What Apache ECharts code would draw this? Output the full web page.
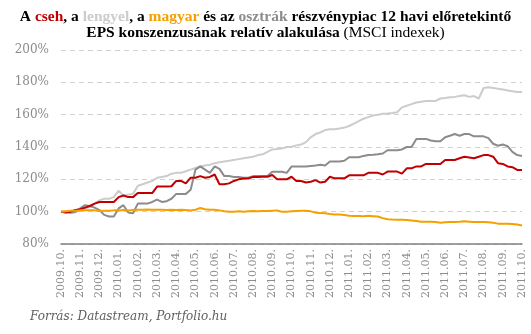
<!DOCTYPE html>
<html>
<head>
<meta charset="utf-8">
<script src="https://cdn.jsdelivr.net/npm/echarts@6/dist/echarts.min.js"></script>
<style>html,body{margin:0;padding:0;background:#fff}#c{width:531px;height:334px}</style>
</head>
<body>
<div id="c"></div>
<script>
var months = ['2009.10.','2009.11.','2009.12.','2010.01.','2010.02.','2010.03.','2010.04.','2010.05.','2010.06.','2010.07.','2010.08.','2010.09.','2010.10.','2010.11.','2010.12.','2011.01.','2011.02.','2011.03.','2011.04.','2011.05.','2011.06.','2011.07.','2011.08.','2011.09.','2011.10.'];
var yTicks = [80, 100, 120, 140, 160, 180, 200];

var lengyel = [100,99.5,99,99.5,101,102,103,105,107,108,108,109,113,110,110.5,111,116,117,118,119,121,121.5,122,123.5,124,124,125,126,127,128,128.5,129,130,130.5,131,131.5,132,132.5,133,133.5,134,135,135.5,137,138.5,138.7,139,140,140,141,141.5,143,146,148,149,150.5,151,151,151.5,152,153,154.5,156,157.5,158.5,159.5,160,160.5,160.7,161,161.5,164.5,165.5,166.5,167.5,168,168.4,168.4,168.5,170,170.3,170.8,171,171.5,172,171,171.5,170,176.5,177,176.5,176,175.5,175,174.5,174,174];
var osztrak = [100,100,99.5,100,102,104,103.5,102.5,101,98,97,97,102,104,99.5,99,105,105,105,106,107.5,106,106.5,108,111,111,111,113.5,126,128,126,124,128,126.5,122,122,121.5,121.5,121,121,122,122,122,122,124.7,124.7,124.7,124,127.9,127.9,127.9,128,128.3,128.6,129,128.5,131,131,131,131.5,133.7,133.7,133.7,134.5,135,135.2,135.5,136,138,138,138,138.5,140,140,145,145,145,144,143.5,143.5,146,147,148,147,148,148,146.6,146.6,146.6,145.5,142,140.8,141.6,140.5,137,135,134.5];
var cseh = [100,99.5,100,101,101.5,102.5,103.5,105,106,106,106,106,109,110,109,109,111.5,111.5,111.5,111.5,115.5,115.5,115.5,115.7,119,119,117.5,121,121,122,121,121.5,123,117,117,117.5,119,120,120.5,120.5,121.5,121.5,121.6,121.6,122.7,120,120,120,121.6,119,119,118,118.5,119.5,118,118.5,121.6,120.6,120.6,120.6,122.5,122.5,122.5,122.5,124,124,124,123,124.8,124.8,124.8,123.5,126.8,126.8,128,128,129.5,129.5,129.5,129.5,132,132,132,133,134,133.5,133,134,135,135,134,130,129.5,128,127.5,125.8,125.8];
var magyar = [100,100.3,100.5,100.5,100.8,100.8,100.8,100.8,100.4,100.5,100.6,100.8,100.8,101,100.8,101,101.2,101.2,101.3,101.2,101.2,101.2,101.1,101.2,101,101.2,101,100.8,101.2,102.3,101.5,101.2,101.2,100.8,100.2,100,100,100.2,100,100.3,100.4,100.3,100.4,100.4,100.6,100.8,100,100,100.2,100.4,100.5,100.6,100.2,99.4,99.2,99,98.6,98.3,98.2,98,97.5,97.3,97.3,97.2,97.4,97.2,97,96,95.3,95.1,95,95,94.8,94.6,94.2,93.7,93.8,93.7,93.6,93.2,93.4,93.6,93.6,93.7,94,93.8,93.6,93.6,93.6,93.5,93.2,92.6,92.5,92.5,92.4,92,91.5];

var categories = [];
for (var i = 0; i < lengyel.length; i++) {
  categories.push(i % 4 === 0 ? months[i / 4] : ' ' + i);
}

var chart = echarts.init(document.getElementById('c'));
var serif = '"DejaVu Serif", "Liberation Serif", serif';
var tserif = '"Liberation Serif", "DejaVu Serif", serif';
function mk(name, data, color) {
  return { name: name, type: 'line', data: data, symbol: 'none', animation: false,
    lineStyle: { color: color, width: 2 }, itemStyle: { color: color } };
}
var fs = 15.5, lh = 16;
function st(color, weight) {
  return { fontFamily: tserif, fontWeight: weight, fontSize: fs, color: color, lineHeight: lh };
}
chart.setOption({
  animation: false,
  title: {
    left: 'center', top: 4,
    text: '{b|A }{r|cseh}{b|, a }{l|lengyel}{b|, a }{o|magyar}{b| és az }{g|osztrák}{b| részvénypiac 12 havi előretekintő}\n{b|EPS konszenzusának relatív alakulása}{n| (MSCI indexek)}',
    textStyle: {
      fontFamily: tserif, fontSize: fs, lineHeight: lh,
      rich: {
        b: st('#000', 'bold'),
        r: st('#c00000', 'bold'),
        l: st('#cccccc', 'bold'),
        o: st('#f5a000', 'bold'),
        g: st('#8c8c8c', 'bold'),
        n: st('#000', 'normal')
      }
    }
  },
  graphic: [{
    type: 'text', left: 30, top: 311,
    style: { text: 'Forrás: Datastream, Portfolio.hu', fontFamily: serif, fontStyle: 'italic', fontSize: 12, fill: '#606060' }
  }],
  grid: { left: 61, right: 9, top: 50, bottom: 90, containLabel: false },
  xAxis: {
    type: 'category', data: categories, boundaryGap: false,
    axisLine: { lineStyle: { color: '#808080', width: 1.5 } },
    axisTick: { show: false },
    axisLabel: { interval: 3, rotate: 90, color: '#8c8c8c', fontFamily: serif, fontSize: 11, margin: 5 },
    splitLine: { show: false }
  },
  yAxis: {
    type: 'value', min: yTicks[0], max: yTicks[yTicks.length - 1], interval: 20,
    axisLine: { show: false }, axisTick: { show: false },
    axisLabel: { formatter: '{value}%', color: '#8c8c8c', fontFamily: serif, fontSize: 12, margin: 12 },
    splitLine: { lineStyle: { color: '#d0d0d0', type: [5, 4], width: 1 } }
  },
  series: [
    mk('lengyel', lengyel, '#cccccc'),
    mk('osztrák', osztrak, '#8c8c8c'),
    mk('cseh', cseh, '#c00000'),
    mk('magyar', magyar, '#f5a000')
  ]
});
</script>
</body>
</html>
